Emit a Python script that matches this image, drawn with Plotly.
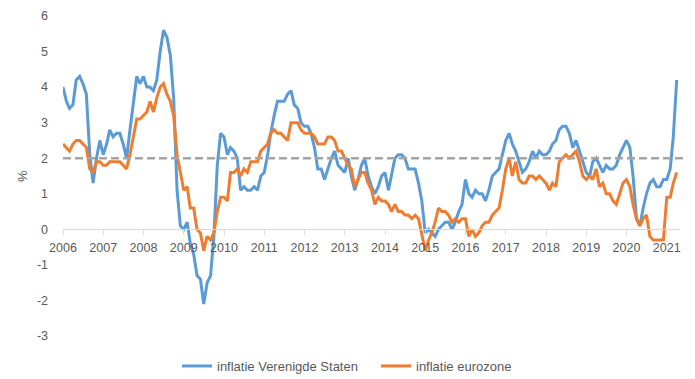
import pandas as pd
import plotly.graph_objects as go

# ---- data (monthly, Jan 2006 - Apr 2021) ----
start_month = "2006-01-01"
us_inflation = [
    4.0, 3.6, 3.4, 3.5, 4.2, 4.3, 4.1, 3.8, 2.1, 1.3, 2.0, 2.5,   # 2006
    2.1, 2.4, 2.8, 2.6, 2.7, 2.7, 2.4, 2.0, 2.8, 3.5, 4.3, 4.1,   # 2007
    4.3, 4.0, 4.0, 3.9, 4.2, 5.0, 5.6, 5.4, 4.9, 3.7, 1.1, 0.1,   # 2008
    0.0, 0.2, -0.4, -0.7, -1.3, -1.4, -2.1, -1.5, -1.3, -0.2, 1.8, 2.7,  # 2009
    2.6, 2.1, 2.3, 2.2, 2.0, 1.1, 1.2, 1.1, 1.1, 1.2, 1.1, 1.5,   # 2010
    1.6, 2.1, 2.7, 3.2, 3.6, 3.6, 3.6, 3.8, 3.9, 3.5, 3.4, 3.0,   # 2011
    2.9, 2.9, 2.7, 2.3, 1.7, 1.7, 1.4, 1.7, 2.0, 2.2, 1.8, 1.7,   # 2012
    1.6, 2.0, 1.5, 1.1, 1.4, 1.8, 2.0, 1.5, 1.2, 1.0, 1.2, 1.5,   # 2013
    1.6, 1.1, 1.5, 2.0, 2.1, 2.1, 2.0, 1.7, 1.7, 1.7, 1.3, 0.8,   # 2014
    -0.1, 0.0, -0.1, -0.2, 0.0, 0.1, 0.2, 0.2, 0.0, 0.2, 0.5, 0.7,  # 2015
    1.4, 1.0, 0.9, 1.1, 1.0, 1.0, 0.8, 1.1, 1.5, 1.6, 1.7, 2.1,   # 2016
    2.5, 2.7, 2.4, 2.2, 1.9, 1.6, 1.7, 1.9, 2.2, 2.0, 2.2, 2.1,   # 2017
    2.1, 2.2, 2.4, 2.5, 2.8, 2.9, 2.9, 2.7, 2.3, 2.5, 2.2, 1.9,   # 2018
    1.6, 1.5, 1.9, 2.0, 1.8, 1.6, 1.8, 1.7, 1.7, 1.8, 2.1, 2.3,   # 2019
    2.5, 2.3, 1.5, 0.3, 0.1, 0.6, 1.0, 1.3, 1.4, 1.2, 1.2, 1.4,   # 2020
    1.4, 1.7, 2.6, 4.2,                                           # 2021
]
ez_inflation = [
    2.4, 2.3, 2.2, 2.4, 2.5, 2.5, 2.4, 2.3, 1.7, 1.6, 1.9, 1.9,   # 2006
    1.8, 1.8, 1.9, 1.9, 1.9, 1.9, 1.8, 1.7, 2.1, 2.6, 3.1, 3.1,   # 2007
    3.2, 3.3, 3.6, 3.3, 3.7, 4.0, 4.1, 3.8, 3.6, 3.2, 2.1, 1.6,   # 2008
    1.1, 1.2, 0.6, 0.6, 0.0, -0.1, -0.6, -0.2, -0.3, -0.1, 0.5, 0.9,  # 2009
    0.9, 0.8, 1.6, 1.6, 1.7, 1.5, 1.7, 1.6, 1.9, 1.9, 1.9, 2.2,   # 2010
    2.3, 2.4, 2.7, 2.8, 2.7, 2.7, 2.6, 2.5, 3.0, 3.0, 3.0, 2.8,   # 2011
    2.7, 2.7, 2.7, 2.6, 2.4, 2.4, 2.4, 2.6, 2.6, 2.5, 2.2, 2.2,   # 2012
    2.0, 1.8, 1.7, 1.2, 1.4, 1.6, 1.6, 1.3, 1.1, 0.7, 0.9, 0.8,   # 2013
    0.8, 0.7, 0.5, 0.7, 0.5, 0.5, 0.4, 0.4, 0.3, 0.4, 0.3, -0.2,  # 2014
    -0.6, -0.3, -0.1, 0.2, 0.6, 0.5, 0.5, 0.4, 0.2, 0.3, 0.2, 0.3,  # 2015
    0.3, -0.2, 0.0, -0.2, -0.1, 0.1, 0.2, 0.2, 0.4, 0.5, 0.6, 1.1,  # 2016
    1.7, 2.0, 1.5, 1.9, 1.4, 1.3, 1.3, 1.5, 1.5, 1.4, 1.5, 1.4,   # 2017
    1.3, 1.1, 1.3, 1.2, 1.9, 2.0, 2.1, 2.0, 2.1, 2.2, 1.9, 1.5,   # 2018
    1.4, 1.5, 1.4, 1.7, 1.2, 1.3, 1.0, 1.0, 0.8, 0.7, 1.0, 1.3,   # 2019
    1.4, 1.2, 0.7, 0.3, 0.1, 0.3, 0.4, -0.2, -0.3, -0.3, -0.3, -0.3,  # 2020
    0.9, 0.9, 1.3, 1.6,                                           # 2021
]
target = 2
years = list(range(2006, 2022))
year_ticks = [f"{y}-01-01" for y in years]
year_labels = [str(y) for y in years]
y_ticks = list(range(-3, 7))
y_labels = [str(v) for v in y_ticks]

months = pd.date_range(start_month, periods=len(us_inflation), freq="MS")

BLUE = "#5B9BD5"
ORANGE = "#ED7D31"
GREY_TXT = "#595959"
FONT = "Liberation Sans, Arial, sans-serif"

W, H = 687, 371  # page adds an 8px body margin

fig = go.Figure()
fig.add_trace(go.Scatter(x=months, y=us_inflation, mode="lines",
                         name="inflatie Verenigde Staten",
                         line=dict(color=BLUE, width=3)))
fig.add_trace(go.Scatter(x=months, y=ez_inflation, mode="lines",
                         name="inflatie eurozone",
                         line=dict(color=ORANGE, width=3)))

fig.add_shape(type="line", xref="paper", yref="y", x0=0, x1=1.009,
              y0=target, y1=target, layer="above",
              line=dict(color="#A5A5A5", width=2.5, dash="8px,4px"))

fig.add_annotation(text="%", xref="paper", yref="paper", x=-41 / 617, y=0.5,
                   xanchor="center", yanchor="middle",
                   textangle=-90, showarrow=False,
                   font=dict(family=FONT, size=13, color=GREY_TXT))

fig.update_layout(
    width=W, height=H,
    margin=dict(l=55, r=15, t=8, b=43, autoexpand=False),
    paper_bgcolor="white", plot_bgcolor="white",
    font=dict(family=FONT, size=12.5, color=GREY_TXT),
    showlegend=True,
    legend=dict(orientation="h", xref="container", yref="container",
                x=(183 - 8 - 6) / W, xanchor="left",
                y=1 - 343 / H, yanchor="top",
                itemwidth=30, entrywidth=154, entrywidthmode="pixels",
                font=dict(family=FONT, size=13, color=GREY_TXT)),
    xaxis=dict(type="date", range=["2006-01-01", "2021-05-01"],
               anchor="free", position=1/3, automargin=False,
               showline=True, linecolor="#D9D9D9", linewidth=1,
               ticks="outside", ticklen=5, tickcolor="#D9D9D9",
               ticklabelstandoff=2,
               tickvals=year_ticks, ticktext=year_labels,
               showgrid=False, zeroline=False,
               tickfont=dict(family=FONT, size=12.5, color=GREY_TXT)),
    yaxis=dict(range=[-3, 6], tickvals=y_ticks, ticktext=y_labels,
               automargin=False,
               showgrid=False, zeroline=False, showline=False, ticks="",
               ticklabelstandoff=14,
               tickfont=dict(family=FONT, size=12.5, color=GREY_TXT)),
)

fig.write_html("out.html")
